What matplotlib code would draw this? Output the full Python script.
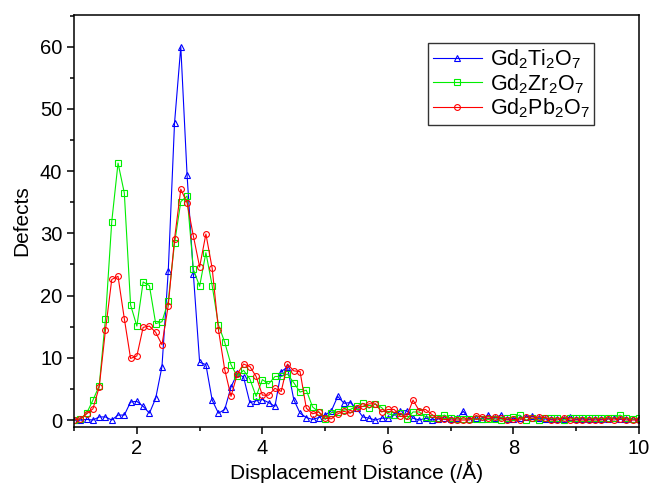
import numpy as np
import matplotlib
matplotlib.use('Agg')
import matplotlib.pyplot as plt
from matplotlib.ticker import MultipleLocator

plt.rcParams['font.family'] = ['Liberation Sans', 'DejaVu Sans']
plt.rcParams['mathtext.default'] = 'regular'

# displacement distance (A), sampled every 0.1
dist = np.round(np.arange(10, 101) / 10.0, 1)

# Gd2Ti2O7
ti = [0, 0, 0.1, 0, 0.5, 0.5, 0, 0.8, 0.8, 2.9,
      3.0, 2.2, 1.1, 3.5, 8.6, 23.9, 47.7, 60.0, 39.4, 23.5,
      9.3, 8.9, 3.2, 1.1, 1.7, 5.3, 7.5, 6.9, 2.8, 3.1,
      3.3, 2.8, 2.2, 7.8, 8.5, 3.3, 1.1, 0.4, 0.1, 0.4,
      0.8, 1.5, 3.8, 2.7, 2.8, 1.9, 0.5, 0.3, 0, 0.3,
      0.3, 0.8, 1.5, 1.5, 0.3, 0, 0.3, 0, 0.2, 0.3,
      0.2, 0.3, 1.4, 0.2, 0.3, 0.2, 0.8, 0.3, 0.8, 0.1,
      0.2, 0.3, 0.5, 0.6, 0.3, 0.2, 0.1, 0.2, 0.2, 0.5,
      0.1, 0.2, 0.1, 0.2, 0.1, 0.2, 0.3, 0.1, 0.2, 0.1,
      0.1]

# Gd2Zr2O7
zr = [0, 0.2, 1.1, 3.2, 5.5, 16.3, 31.9, 41.3, 36.5, 18.5,
      15.1, 22.2, 21.6, 15.5, 15.8, 19.1, 28.4, 35.1, 36.0, 24.2,
      21.5, 26.9, 21.6, 15.3, 12.5, 8.9, 7.0, 8.0, 6.6, 3.8,
      6.5, 5.8, 7.0, 7.0, 7.4, 6.0, 4.5, 4.8, 2.1, 1.3,
      0.1, 1.2, 1.3, 1.6, 1.7, 2.2, 2.7, 1.9, 2.6, 2.0,
      1.0, 0.8, 1.1, 0.1, 1.3, 1.3, 0.5, 0.4, 0.4, 0.8,
      0.3, 0.2, 0.2, 0.1, 0.2, 0.2, 0.1, 0.2, 0.0, 0.3,
      0.5, 0.8, 0.0, 0.3, 0.0, 0.3, 0.3, 0.3, 0.0, 0.3,
      0.3, 0.4, 0.3, 0.3, 0.3, 0.3, 0.3, 0.8, 0.3, 0.1,
      0.3]

# Gd2Pb2O7
pb = [0, 0.2, 1.0, 1.8, 5.3, 14.5, 22.6, 23.1, 16.3, 9.9,
      10.3, 14.9, 15.1, 14.1, 12.1, 18.4, 29.1, 37.1, 34.9, 29.6,
      24.6, 29.9, 24.4, 14.5, 8.1, 3.8, 7.4, 9.0, 8.6, 7.0,
      4.0, 4.0, 5.1, 4.6, 9.0, 7.9, 7.8, 1.9, 1.0, 1.3,
      0.3, 0.2, 1.0, 1.4, 1.1, 1.9, 2.2, 2.6, 2.6, 1.3,
      1.7, 1.7, 0.6, 0.6, 3.2, 1.5, 1.7, 0.9, 0.2, 0.1,
      0.0, 0.0, 0.0, 0.0, 0.7, 0.5, 0.3, 0.5, 0.3, 0.0,
      0.1, 0.0, 0.5, 0.3, 0.5, 0.4, 0.0, 0.0, 0.4, 0.0,
      0.0, 0.0, 0.0, 0.0, 0.0, 0.2, 0.0, 0.2, 0.0, 0.0,
      0.0]

fig = plt.figure(figsize=(6.5, 4.84), dpi=100)
ax = fig.add_axes([0.114, 0.118, 0.869, 0.851])

ax.plot(dist, ti, color='#0000ff', lw=0.8, marker='^', ms=4.5,
        mfc='none', mec='#0000ff', mew=0.8, label=r'Gd$_2$Ti$_2$O$_7$')
ax.plot(dist, zr, color='#00ee00', lw=0.8, marker='s', ms=3.8,
        mfc='none', mec='#00ee00', mew=0.8, label=r'Gd$_2$Zr$_2$O$_7$')
ax.plot(dist, pb, color='#ff0000', lw=0.8, marker='o', ms=4.2,
        mfc='none', mec='#ff0000', mew=0.8, label=r'Gd$_2$Pb$_2$O$_7$')

ax.set_xlim(1, 10)
ax.set_ylim(-1.1, 65.1)
ax.xaxis.set_major_locator(MultipleLocator(2))
ax.xaxis.set_minor_locator(MultipleLocator(1))
ax.yaxis.set_major_locator(MultipleLocator(10))
ax.yaxis.set_minor_locator(MultipleLocator(5))
ax.tick_params(which='major', direction='out', length=5, width=1.1,
               labelsize=14.5)
ax.tick_params(which='minor', direction='out', length=3, width=1.1)
for s in ax.spines.values():
    s.set_linewidth(1.1)

ax.set_xlabel('Displacement Distance (/Å)', fontsize=15, labelpad=2)
ax.set_ylabel('Defects', fontsize=15, labelpad=6)

leg = ax.legend(loc='upper right', bbox_to_anchor=(0.92, 0.932),
                borderaxespad=0, fontsize=15.5, numpoints=1,
                handlelength=2.3, handletextpad=0.35, borderpad=0.2,
                labelspacing=0.05, fancybox=False, framealpha=1,
                edgecolor='#333333')
leg.get_frame().set_linewidth(1.0)

fig.savefig('out.png', dpi=100)
